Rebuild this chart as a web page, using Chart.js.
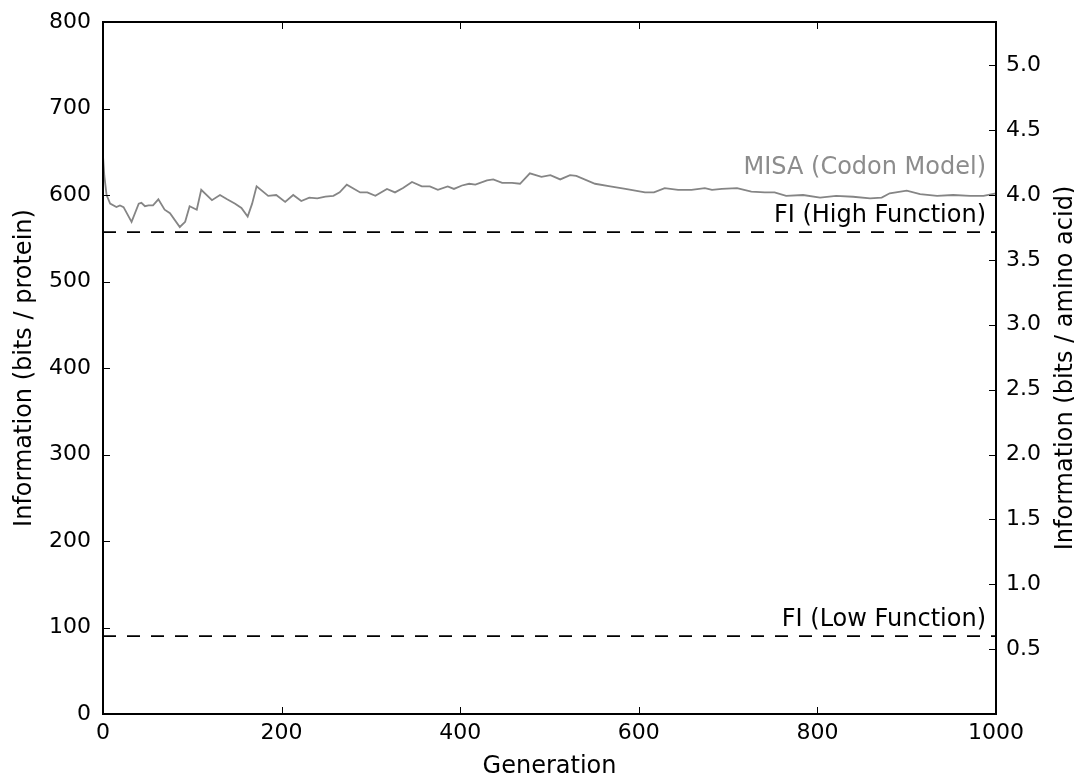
<!DOCTYPE html>
<html>
<head>
<meta charset="utf-8">
<script src="https://cdn.jsdelivr.net/npm/chart.js@4/dist/chart.umd.min.js"></script>
<style>
  body { margin: 0; background: #fff; }
  #wrap { width: 1074px; height: 774px; }
</style>
</head>
<body>
<div id="wrap"><canvas id="infoChart"></canvas></div>
<script>
// generations sampled along the MISA curve
const generations = [0, 1.5, 4, 8, 15, 19, 23, 32, 40, 43, 47, 51, 56, 62, 69, 75, 86, 92, 97, 105,
  110, 122, 131, 139, 148, 155, 162, 167, 172, 185, 194, 204, 213, 222, 231, 240, 249, 258, 265, 273,
  288, 296, 305, 318, 327, 336, 346, 357, 366, 375, 386, 393, 402, 410, 417, 430, 437, 447, 458, 467,
  478, 491, 501, 512, 523, 530, 551, 568, 585, 607, 617, 629, 644, 659, 674, 682, 693, 710, 726, 741,
  752, 765, 784, 803, 821, 840, 859, 872, 881, 900, 915, 934, 952, 971, 986, 1000];
const misaBits = [645, 622, 600, 590, 586, 588, 586, 569, 590, 591, 587, 588, 588, 595, 583, 579, 563, 569, 587, 583,
  606, 594, 600, 595, 590, 585, 575, 590, 610, 599, 600, 592, 600, 593, 597, 596, 598, 599, 603, 612,
  603, 603, 599, 607, 603, 608, 615, 610, 610, 606, 610, 607, 611, 613, 612, 617, 618, 614, 614, 613,
  625, 621, 623, 618, 623, 622, 613, 610, 607, 603, 603, 608, 606, 606, 608, 606, 607, 608, 604, 603,
  603, 599, 600, 597, 599, 598, 596, 597, 602, 605, 601, 599, 600, 599, 599, 602];

const fiHigh = 557;
const fiLow = 90;
const proteinLength = 150;

const xTicks = [0, 200, 400, 600, 800, 1000];
const leftTicks = [0, 100, 200, 300, 400, 500, 600, 700, 800];
const rightTicks = [0.5, 1.0, 1.5, 2.0, 2.5, 3.0, 3.5, 4.0, 4.5, 5.0];

const FONT = 'DejaVu Sans';
const FS = 22;      // tick labels
const LABEL_FS = 24; // axis titles and annotations

function fixTicks(list) {
  return function (scale) { scale.ticks = list.map(v => ({ value: v })); };
}

const decorations = {
  id: 'decorations',
  afterDraw(chart) {
    const c = chart.ctx;
    const a = chart.chartArea;
    const xs = chart.scales.x, yl = chart.scales.y, yr = chart.scales.y2;
    const tl = 7;
    c.save();
    c.strokeStyle = '#000';
    c.lineWidth = 1;
    c.beginPath();
    xTicks.forEach(v => {
      const px = Math.round(xs.getPixelForValue(v)) + 0.5;
      c.moveTo(px, a.bottom); c.lineTo(px, a.bottom - tl);
      c.moveTo(px, a.top); c.lineTo(px, a.top + tl);
    });
    leftTicks.forEach(v => {
      const py = Math.round(yl.getPixelForValue(v)) + 0.5;
      c.moveTo(a.left, py); c.lineTo(a.left + tl, py);
    });
    rightTicks.forEach(v => {
      const py = Math.round(yr.getPixelForValue(v)) + 0.5;
      c.moveTo(a.right, py); c.lineTo(a.right - tl, py);
    });
    c.stroke();

    c.lineWidth = 2;
    c.strokeRect(a.left, a.top, a.right - a.left, a.bottom - a.top);

    c.font = LABEL_FS + 'px "' + FONT + '"';
    c.fillStyle = '#000';
    c.textAlign = 'center';
    c.textBaseline = 'alphabetic';
    c.fillText('Generation', (a.left + a.right) / 2, 773);

    const midY = (a.top + a.bottom) / 2;
    c.save();
    c.translate(31, midY);
    c.rotate(-Math.PI / 2);
    c.fillText('Information (bits / protein)', 0, 0);
    c.restore();
    c.save();
    c.translate(1072, midY);
    c.rotate(-Math.PI / 2);
    c.fillText('Information (bits / amino acid)', 0, 0);
    c.restore();

    const tx = a.right - 10;
    c.textAlign = 'right';
    c.fillStyle = '#8c8c8c';
    c.fillText('MISA (Codon Model)', tx, yl.getPixelForValue(624));
    c.fillStyle = '#000';
    c.fillText('FI (High Function)', tx, yl.getPixelForValue(fiHigh) - 10);
    c.fillText('FI (Low Function)', tx, yl.getPixelForValue(fiLow) - 10);
    c.restore();
  }
};

document.addEventListener('DOMContentLoaded', function () {
  const ctx = document.getElementById('infoChart').getContext('2d');
  new Chart(ctx, {
    type: 'line',
    data: {
      datasets: [
        {
          data: generations.map((g, i) => ({ x: g, y: misaBits[i] })),
          borderColor: '#858585',
          borderWidth: 1.8,
          pointRadius: 0,
          tension: 0,
          yAxisID: 'y'
        },
        {
          data: [{ x: 0, y: fiHigh }, { x: 1000, y: fiHigh }],
          borderColor: '#000',
          borderWidth: 1.8,
          borderDash: [13, 11],
          pointRadius: 0,
          yAxisID: 'y'
        },
        {
          data: [{ x: 0, y: fiLow }, { x: 1000, y: fiLow }],
          borderColor: '#000',
          borderWidth: 1.8,
          borderDash: [13, 11],
          pointRadius: 0,
          yAxisID: 'y'
        }
      ]
    },
    options: {
      responsive: true,
      maintainAspectRatio: false,
      animation: false,
      layout: { padding: { top: 22, left: 0, right: 0, bottom: 0 } },
      plugins: { legend: { display: false }, tooltip: { enabled: false } },
      scales: {
        x: {
          type: 'linear',
          min: 0, max: 1000,
          afterBuildTicks: fixTicks(xTicks),
          afterFit: s => { s.height = 60; s.paddingLeft = 0; s.paddingRight = 0; },
          grid: { display: false, drawTicks: false },
          border: { display: false },
          ticks: { autoSkip: false, maxRotation: 0, padding: 6, color: '#000', font: { family: FONT, size: FS },
            callback: v => String(v) }
        },
        y: {
          position: 'left',
          min: 0, max: 800,
          afterBuildTicks: fixTicks(leftTicks),
          afterFit: s => { s.width = 103; s.paddingTop = 0; s.paddingBottom = 0; },
          grid: { display: false, drawTicks: false },
          border: { display: false },
          ticks: { autoSkip: false, padding: 12, color: '#000', font: { family: FONT, size: FS },
            callback: v => String(v) }
        },
        y2: {
          position: 'right',
          min: 0, max: 800 / proteinLength,
          afterBuildTicks: fixTicks(rightTicks),
          afterFit: s => { s.width = 78; s.paddingTop = 0; s.paddingBottom = 0; },
          grid: { display: false, drawTicks: false },
          border: { display: false },
          ticks: { autoSkip: false, padding: 10, color: '#000', font: { family: FONT, size: FS },
            callback: v => Number(v).toFixed(1) }
        }
      }
    },
    plugins: [decorations]
  });
});
</script>
</body>
</html>
